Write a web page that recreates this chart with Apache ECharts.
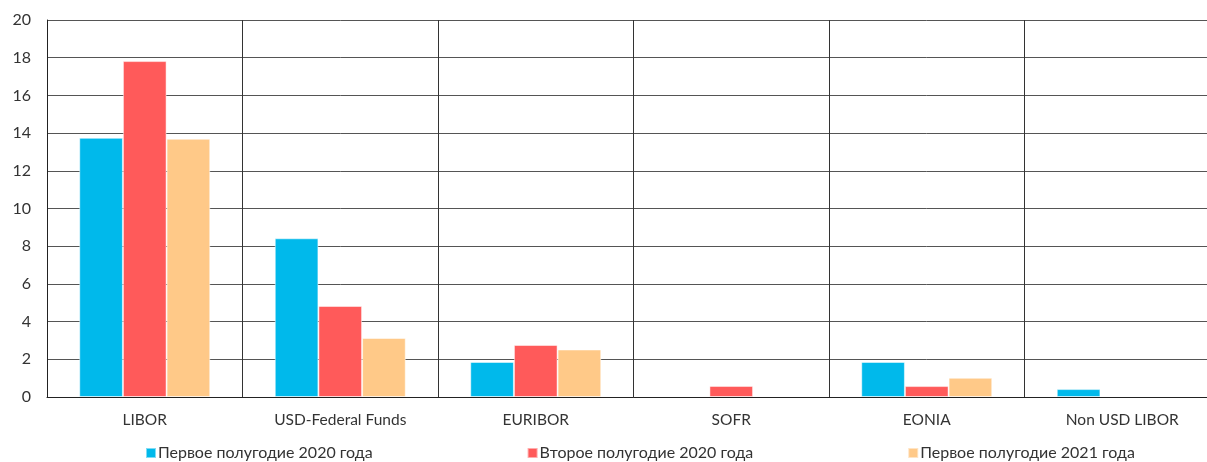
<!DOCTYPE html>
<html>
<head>
<meta charset="utf-8">
<script src="https://cdn.jsdelivr.net/npm/echarts@6/dist/echarts.min.js"></script>
<style>
html, body { margin: 0; padding: 0; background: #fff; overflow: hidden; }
#main { width: 1221px; height: 462px; }
</style>
</head>
<body>
<div id="main"></div>
<script>
// категории и значения
const categories = ['LIBOR', 'USD-Federal Funds', 'EURIBOR', 'SOFR', 'EONIA', 'Non USD LIBOR'];
const seriesNames = ['Первое полугодие 2020 года', 'Второе полугодие 2020 года', 'Первое полугодие 2021 года'];
const h1_2020 = [13.75, 8.42, 1.86, null, 1.86, 0.42];
const h2_2020 = [17.82, 4.83, 2.76, 0.59, 0.58, null];
const h1_2021 = [13.7, 3.13, 2.52, null, 1.02, null];
const colors = ['#00B9EB', '#FF5A5A', '#FFC988'];

const fontFamily = 'Lato, "Open Sans", sans-serif';

// плот уходит за правый край окна, поэтому контейнер чуть шире 1207
const chart = echarts.init(document.getElementById('main'));
const values = [h1_2020, h2_2020, h1_2021];

chart.setOption({
  animation: false,
  color: colors,
  textStyle: { fontFamily: fontFamily },
  grid: { left: 47, top: 20, right: 1, bottom: 65, containLabel: false },
  legend: {
    left: 140,
    top: 440,
    itemWidth: 10,
    itemHeight: 10,
    itemGap: 154,
    icon: 'rect',
    textStyle: { fontSize: 16, color: '#333', fontFamily: fontFamily, padding: [0, 0, 0, -3] },
    data: seriesNames
  },
  xAxis: {
    type: 'category',
    data: categories,
    axisLine: { lineStyle: { color: '#222', width: 1 } },
    axisTick: { show: false },
    splitLine: { show: true, lineStyle: { color: '#333', width: 1 } },
    axisLabel: { fontSize: 15.5, color: '#333', margin: 15, fontFamily: fontFamily }
  },
  yAxis: {
    type: 'value',
    min: 0,
    max: 20,
    interval: 2,
    axisLine: { show: true, lineStyle: { color: '#222', width: 1 } },
    axisTick: { show: false },
    splitLine: { lineStyle: { color: '#555', width: 1 } },
    axisLabel: { fontSize: 16, color: '#333', margin: 16, fontFamily: fontFamily }
  },
  series: seriesNames.map((name, i) => ({
    name: name,
    type: 'bar',
    data: values[i],
    barGap: '0%',
    barCategoryGap: '33%',
    itemStyle: { color: colors[i], borderColor: 'rgba(255,255,255,0.5)', borderWidth: 1 }
  }))
});
</script>
</body>
</html>
